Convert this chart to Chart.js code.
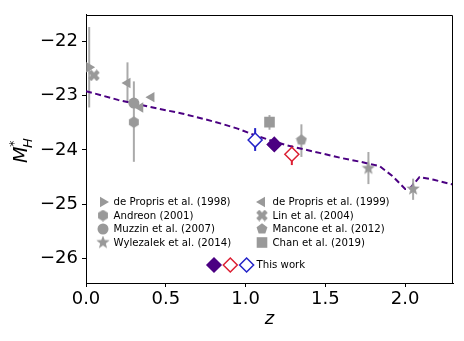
<!DOCTYPE html>
<html>
<head>
<meta charset="utf-8">
<script src="https://cdn.jsdelivr.net/npm/chart.js@4.4.1/dist/chart.umd.min.js"></script>
<style>
  body { margin: 0; background: #fff; }
</style>
</head>
<body>
<canvas id="mh" width="464" height="341"></canvas>
<script>
// values: redshift z and M*_H, error bars as [top, bottom]
const dePropris98Z = [0.02];
const dePropris98M = [-22.48];
const dePropris98Err = [[-21.74, -23.22]];
const andreonZ = [0.30];
const andreonM = [-23.49];
const andreonErr = [[-22.74, -24.22]];
const muzzinZ = [0.30];
const muzzinM = [-23.14];
const wylezalekZ = [1.77, 2.05];
const wylezalekM = [-24.34, -24.72];
const wylezalekErr = [[-24.04, -24.63], [-24.53, -24.92]];
const dePropris99Z = [0.26, 0.41, 0.34];
const dePropris99M = [-22.77, -23.03, -23.22];
const dePropris99Err = [[-22.39, -23.13], null, null];
const linZ = [0.05];
const linM = [-22.63];
const manconeZ = [1.35];
const manconeM = [-23.82];
const manconeErr = [[-23.53, -24.13]];
const chanZ = [1.15];
const chanM = [-23.49];
const chanErr = [[-23.36, -23.63]];

const thisWorkZ = [1.18];
const thisWorkM = [-23.90];
const thisWorkRedZ = [1.29];
const thisWorkRedM = [-24.08];
const thisWorkRedErr = [[-23.92, -24.28]];
const thisWorkBlueZ = [1.06];
const thisWorkBlueM = [-23.82];
const thisWorkBlueErr = [[-23.60, -24.02]];

// dashed model track
const modelZ = [0.00, 0.20, 0.40, 0.60, 0.75, 0.85, 0.95, 1.05, 1.15, 1.25, 1.35, 1.47, 1.60, 1.72, 1.84, 1.92, 2.00, 2.03, 2.09, 2.18, 2.30];
const modelM = [-22.92, -23.08, -23.21, -23.33, -23.44, -23.52, -23.61, -23.72, -23.82, -23.91, -23.98, -24.06, -24.15, -24.22, -24.30, -24.48, -24.72, -24.71, -24.50, -24.55, -24.64];

const xTicks = [0, 0.5, 1.0, 1.5, 2.0];
const yTicks = [-26, -25, -24, -23, -22];

const grey = '#999999';
const barGrey = '#aaaaaa';
const indigo = '#4b0082';
const red = '#dc1e32';
const blue = '#2323c8';
const font = '"DejaVu Sans", sans-serif';

function pts(xs, ys) {
    return xs.map((x, i) => ({ x: x, y: ys[i] }));
}

// grey markers chart.js has no filled version of
function shape(kind, size) {
    const c = document.createElement('canvas');
    c.width = size;
    c.height = size;
    const g = c.getContext('2d');
    const r = size / 2;
    g.translate(r, r);
    g.fillStyle = grey;
    let p = [];
    if (kind === 'hexagon' || kind === 'pentagon') {
        const n = kind === 'hexagon' ? 6 : 5;
        for (let i = 0; i < n; i++) {
            const a = -Math.PI / 2 + i * 2 * Math.PI / n;
            p.push([Math.cos(a) * (r - 0.3), Math.sin(a) * (r - 0.3)]);
        }
    } else if (kind === 'star') {
        for (let i = 0; i < 10; i++) {
            const a = -Math.PI / 2 + i * Math.PI / 5;
            const rr = i % 2 ? r * 0.42 : r;
            p.push([Math.cos(a) * rr, Math.sin(a) * rr]);
        }
    } else if (kind === 'x') {
        const L = r * 1.0, w = r * 0.36;
        const plus = [[w, L], [w, w], [L, w], [L, -w], [w, -w], [w, -L], [-w, -L], [-w, -w], [-L, -w], [-L, w], [-w, w], [-w, L]];
        const k = Math.SQRT1_2;
        p = plus.map(q => [(q[0] - q[1]) * k, (q[0] + q[1]) * k]);
    }
    g.beginPath();
    p.forEach((q, i) => i ? g.lineTo(q[0], q[1]) : g.moveTo(q[0], q[1]));
    g.closePath();
    g.fill();
    return c;
}

function greySet(label, xs, ys, style, extra) {
    return Object.assign({
        label: label,
        data: pts(xs, ys),
        pointStyle: style,
        pointRadius: 6,
        pointRotation: 0,
        pointBackgroundColor: grey,
        pointBorderColor: grey,
        pointBorderWidth: 0,
        errColor: barGrey,
        inLegend: true,
        order: 1
    }, extra || {});
}

function diamondSet(label, xs, ys, fill, edge, err) {
    return {
        label: label,
        data: pts(xs, ys),
        pointStyle: 'rectRot',
        pointRadius: 7,
        pointBackgroundColor: fill,
        pointBorderColor: edge,
        pointBorderWidth: 1.5,
        err: err,
        errColor: edge,
        thisWork: true,
        order: 0
    };
}

const datasets = [
    {
        type: 'line',
        label: 'model',
        data: pts(modelZ, modelM),
        borderColor: indigo,
        borderWidth: 2,
        borderDash: [6, 3.5],
        pointRadius: 0,
        tension: 0,
        order: 5
    },
    greySet('de Propris et al. (1998)', dePropris98Z, dePropris98M, 'triangle', { pointRotation: 90, err: dePropris98Err }),
    greySet('Andreon (2001)', andreonZ, andreonM, shape('hexagon', 12), { err: andreonErr }),
    greySet('Muzzin et al. (2007)', muzzinZ, muzzinM, 'circle', { pointRadius: 5.5 }),
    greySet('Wylezalek et al. (2014)', wylezalekZ, wylezalekM, shape('star', 14), { err: wylezalekErr }),
    greySet('de Propris et al. (1999)', dePropris99Z, dePropris99M, 'triangle', { pointRotation: 270, err: dePropris99Err }),
    greySet('Lin et al. (2004)', linZ, linM, shape('x', 12)),
    greySet('Mancone et al. (2012)', manconeZ, manconeM, shape('pentagon', 12), { err: manconeErr }),
    greySet('Chan et al. (2019)', chanZ, chanM, 'rect', { pointRadius: 7.5, err: chanErr }),
    diamondSet('This work', thisWorkZ, thisWorkM, indigo, indigo, null),
    diamondSet('This work (red)', thisWorkRedZ, thisWorkRedM, '#ffffff', red, thisWorkRedErr),
    diamondSet('This work (blue)', thisWorkBlueZ, thisWorkBlueM, '#ffffff', blue, thisWorkBlueErr)
];

const errorBars = {
    id: 'errorBars',
    beforeDatasetsDraw(chart) {
        const ctx = chart.ctx, xs = chart.scales.x, ys = chart.scales.y;
        ctx.save();
        ctx.lineWidth = 2;
        chart.data.datasets.forEach(ds => {
            if (!ds.err) return;
            ctx.strokeStyle = ds.errColor;
            ds.data.forEach((p, i) => {
                const e = ds.err[i];
                if (!e) return;
                const px = xs.getPixelForValue(p.x);
                ctx.beginPath();
                ctx.moveTo(px, ys.getPixelForValue(e[0]));
                ctx.lineTo(px, ys.getPixelForValue(e[1]));
                ctx.stroke();
            });
        });
        ctx.restore();
    }
};

function legendPoint(ctx, ds, x, y) {
    ctx.fillStyle = ds.pointBackgroundColor;
    ctx.strokeStyle = ds.pointBorderColor;
    ctx.lineWidth = ds.pointBorderWidth;
    Chart.helpers.drawPoint(ctx, {
        pointStyle: ds.pointStyle,
        rotation: ds.pointRotation || 0,
        radius: ds.pointRadius,
        borderWidth: ds.pointBorderWidth
    }, x, y);
}

const frameAndLegend = {
    id: 'frameAndLegend',
    afterDraw(chart) {
        const ctx = chart.ctx, a = chart.chartArea;
        ctx.save();
        // top and right spines
        ctx.strokeStyle = '#000';
        ctx.lineWidth = 1;
        ctx.beginPath();
        ctx.moveTo(Math.round(a.left) + 0.5, Math.round(a.top) + 0.5);
        ctx.lineTo(Math.round(a.right) - 0.5, Math.round(a.top) + 0.5);
        ctx.lineTo(Math.round(a.right) - 0.5, Math.round(a.bottom) + 0.5);
        ctx.stroke();

        // two-column legend
        ctx.font = '10.2px ' + font;
        ctx.textBaseline = 'middle';
        ctx.textAlign = 'left';
        const items = chart.data.datasets.filter(d => d.inLegend);
        items.forEach((ds, i) => {
            const col = Math.floor(i / 4), row = i % 4;
            const mx = col ? 262 : 103;
            const y = 202 + row * 13.5;
            legendPoint(ctx, ds, mx, y);
            ctx.fillStyle = '#000';
            ctx.fillText(ds.label, mx + 10.5, y + 0.5);
        });
        const mine = chart.data.datasets.filter(d => d.thisWork);
        mine.forEach((ds, i) => legendPoint(ctx, ds, 214 + i * 16.3, 265));
        ctx.fillStyle = '#000';
        ctx.fillText(mine[0].label, 256.5, 265.5);

        // y axis label M*_H
        ctx.translate(27, 163);
        ctx.rotate(-Math.PI / 2);
        ctx.textBaseline = 'alphabetic';
        ctx.font = 'italic 19px ' + font;
        ctx.fillText('M', 0, 0);
        const w = ctx.measureText('M').width;
        ctx.font = 'italic 13px ' + font;
        ctx.fillText('H', w - 1.5, 5);
        ctx.font = '13px ' + font;
        ctx.fillText('*', w - 0.5, -9);
        ctx.restore();
    }
};

const axisLine = { color: '#000', width: 1 };
const tickGrid = { display: true, drawOnChartArea: false, drawTicks: true, tickLength: 4, color: '#000' };

new Chart(document.getElementById('mh'), {
    type: 'scatter',
    data: { datasets: datasets },
    options: {
        responsive: false,
        animation: false,
        layout: { padding: { top: 11, right: 11, left: 0, bottom: 0 } },
        plugins: {
            legend: { display: false },
            tooltip: { enabled: false }
        },
        scales: {
            x: {
                type: 'linear',
                min: 0,
                max: 2.3,
                border: axisLine,
                grid: tickGrid,
                afterBuildTicks: s => { s.ticks = xTicks.map(v => ({ value: v })); },
                afterFit: s => { s.height = 58; },
                ticks: {
                    padding: 2,
                    color: '#000',
                    font: { family: font, size: 18 },
                    callback: v => v.toFixed(1)
                },
                title: {
                    display: true,
                    text: 'z',
                    color: '#000',
                    font: { family: font, size: 18, style: 'italic' },
                    padding: { top: 0, bottom: 11 }
                }
            },
            y: {
                type: 'linear',
                min: -26.45,
                max: -21.515,
                border: axisLine,
                grid: tickGrid,
                afterBuildTicks: s => { s.ticks = yTicks.map(v => ({ value: v })); },
                afterFit: s => { s.width = 86; },
                ticks: {
                    padding: 4,
                    color: '#000',
                    font: { family: font, size: 18 },
                    callback: v => '\u2212' + Math.abs(Math.round(v))
                }
            }
        }
    },
    plugins: [errorBars, frameAndLegend]
});
</script>
</body>
</html>
